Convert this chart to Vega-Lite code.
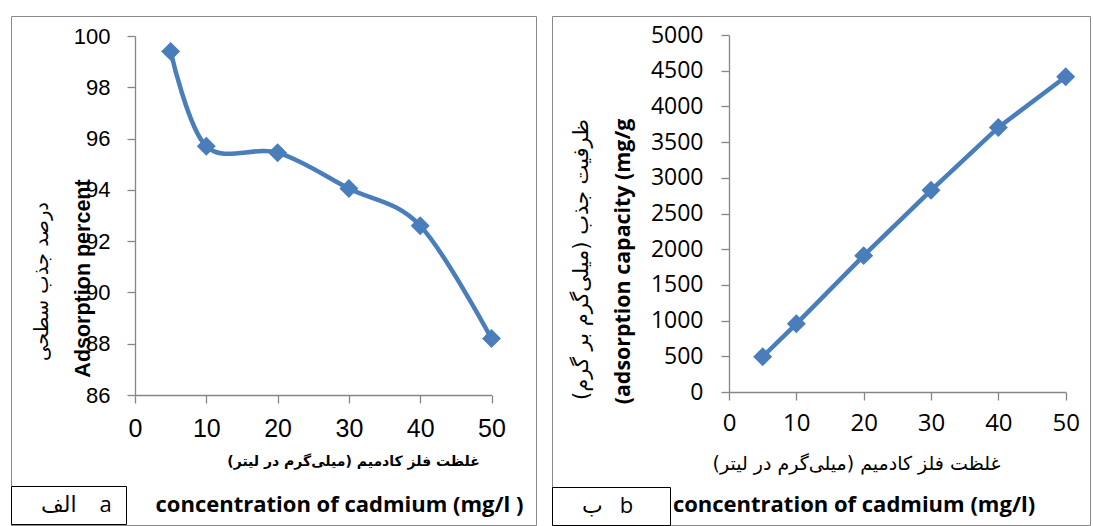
{
  "$schema": "https://vega.github.io/schema/vega-lite/v6.json",
  "background": "white",
  "padding": {"left": 10, "top": 15, "right": 0, "bottom": 0},
  "spacing": 14,
  "config": {
    "view": {"stroke": "#898989", "strokeWidth": 1, "fill": "white"},
    "axis": {"grid": false, "domainColor": "#868686", "tickColor": "#868686", "domainWidth": 1.3, "tickWidth": 1.3, "tickSize": 8, "labelColor": "#000000", "titleColor": "#000000", "labelFlush": false, "labelOverlap": false}
  },
  "resolve": {"scale": {"shape": "independent"}, "legend": {"shape": "independent"}},
  "hconcat": [
    {
      "width": 525,
      "height": 509,
      "data": {"values": [
        {"c": 5, "p": 99.4},
        {"c": 10, "p": 95.7},
        {"c": 20, "p": 95.45},
        {"c": 30, "p": 94.05},
        {"c": 40, "p": 92.6},
        {"c": 50, "p": 88.2}
      ]},
      "resolve": {"axis": {"x": "independent", "y": "independent"}},
      "layer": [
        {
          "mark": {"type": "line", "interpolate": "cardinal", "color": "#4A7EBB", "strokeWidth": 4.5},
          "encoding": {
            "x": {"field": "c", "type": "quantitative",
              "scale": {"domain": [0, 50], "range": [124, 480.5], "nice": false, "zero": false},
              "axis": {"orient": "bottom", "offset": -130, "values": [0, 10, 20, 30, 40, 50],
                "labelFont": "Liberation Sans", "labelFontSize": 25, "labelPadding": 25, "labelBaseline": "middle",
                "title": "غلظت فلز کادمیم (میلی‌گرم در لیتر)", "titleFont": "DejaVu Sans", "titleFontSize": 14, "titleFontWeight": "bold",
                "titleX": 342, "titleY": 66, "titleAlign": "center", "titleBaseline": "middle", "titleAngle": 0}},
            "y": {"field": "p", "type": "quantitative",
              "scale": {"domain": [86, 100], "range": [379, 20], "nice": false, "zero": false},
              "axis": {"orient": "left", "offset": -124, "values": [86, 88, 90, 92, 94, 96, 98, 100],
                "labelFont": "Liberation Sans", "labelFontSize": 22, "labelPadding": 17,
                "title": "Adsorption percent", "titleFont": "Liberation Sans", "titleFontSize": 21.5, "titleFontWeight": "bold",
                "titleX": -52, "titleY": 262, "titleAngle": 270, "titleAlign": "center", "titleBaseline": "middle"}}
          }
        },
        {
          "mark": {"type": "point", "filled": true, "size": 260, "color": "#4A7EBB", "stroke": "#4A7EBB", "strokeWidth": 2, "opacity": 1},
          "encoding": {
            "x": {"field": "c", "type": "quantitative",
              "axis": {"orient": "bottom", "offset": -130, "domain": false, "ticks": false, "labels": false,
                "title": "concentration of cadmium (mg/l )", "titleFont": "Open Sans", "titleFontSize": 22, "titleFontWeight": "bold",
                "titleX": 328, "titleY": 109, "titleAlign": "center", "titleBaseline": "middle", "titleAngle": 0}},
            "y": {"field": "p", "type": "quantitative",
              "axis": {"orient": "left", "offset": -124, "domain": false, "ticks": false, "labels": false,
                "title": "درصد جذب سطحی", "titleFont": "DejaVu Sans", "titleFontSize": 19.5, "titleFontWeight": "normal",
                "titleX": -94, "titleY": 265, "titleAngle": 270, "titleAlign": "center", "titleBaseline": "middle"}},
            "shape": {"datum": "a", "type": "nominal",
              "scale": {"domain": ["a"], "range": ["diamond"]},
              "legend": {"orient": "none", "legendX": 0, "legendY": 470, "title": null,
                "strokeColor": "#000000", "fillColor": "white", "padding": 8,
                "symbolSize": 0, "symbolOpacity": 0, "symbolStrokeWidth": 0, "labelOffset": 0,
                "labelFont": "Open Sans, DejaVu Sans", "labelFontSize": 22, "labelColor": "#000000",
                "labelExpr": "'الف\u00a0\u00a0\u00a0\u00a0' + datum.label + '\u00a0\u200e'"}}
          }
        }
      ]
    },
    {
      "width": 538,
      "height": 509,
      "data": {"values": [
        {"c": 5, "q": 495},
        {"c": 10, "q": 955},
        {"c": 20, "q": 1910},
        {"c": 30, "q": 2825},
        {"c": 40, "q": 3705},
        {"c": 50, "q": 4415}
      ]},
      "resolve": {"axis": {"x": "independent", "y": "independent"}},
      "layer": [
        {
          "mark": {"type": "line", "color": "#4A7EBB", "strokeWidth": 4.5},
          "encoding": {
            "x": {"field": "c", "type": "quantitative",
              "scale": {"domain": [0, 50], "range": [177, 513.7], "nice": false, "zero": false},
              "axis": {"orient": "bottom", "offset": -133, "values": [0, 10, 20, 30, 40, 50],
                "labelFont": "Open Sans", "labelFontSize": 24, "labelPadding": 23, "labelBaseline": "middle",
                "title": "غلظت فلز کادمیم (میلی‌گرم در لیتر)", "titleFont": "DejaVu Sans", "titleFontSize": 19, "titleFontWeight": "normal",
                "titleX": 304, "titleY": 71, "titleAlign": "center", "titleBaseline": "middle", "titleAngle": 0}},
            "y": {"field": "q", "type": "quantitative",
              "scale": {"domain": [0, 5000], "range": [376, 19], "nice": false, "zero": false},
              "axis": {"orient": "left", "offset": -177, "values": [0, 500, 1000, 1500, 2000, 2500, 3000, 3500, 4000, 4500, 5000],
                "format": "d",
                "labelFont": "Open Sans", "labelFontSize": 23, "labelPadding": 18,
                "title": "(adsorption capacity (mg/g", "titleFont": "Open Sans", "titleFontSize": 21.4, "titleFontWeight": "bold",
                "titleX": -106, "titleY": 245, "titleAngle": 270, "titleAlign": "center", "titleBaseline": "middle"}}
          }
        },
        {
          "mark": {"type": "point", "filled": true, "size": 260, "color": "#4A7EBB", "stroke": "#4A7EBB", "strokeWidth": 2, "opacity": 1},
          "encoding": {
            "x": {"field": "c", "type": "quantitative",
              "axis": {"orient": "bottom", "offset": -133, "domain": false, "ticks": false, "labels": false,
                "title": "concentration of cadmium (mg/l)", "titleFont": "Open Sans", "titleFontSize": 22, "titleFontWeight": "bold",
                "titleX": 301.5, "titleY": 112, "titleAlign": "center", "titleBaseline": "middle", "titleAngle": 0}},
            "y": {"field": "q", "type": "quantitative",
              "axis": {"orient": "left", "offset": -177, "domain": false, "ticks": false, "labels": false,
                "title": "ظرفیت جذب (میلی‌گرم بر گرم)", "titleFont": "DejaVu Sans", "titleFontSize": 21, "titleFontWeight": "normal",
                "titleX": -148, "titleY": 243, "titleAngle": 270, "titleAlign": "center", "titleBaseline": "middle"}},
            "shape": {"datum": "b", "type": "nominal",
              "scale": {"domain": ["b"], "range": ["diamond"]},
              "legend": {"orient": "none", "legendX": 0, "legendY": 471, "title": null,
                "strokeColor": "#000000", "fillColor": "white", "padding": 8,
                "symbolSize": 0, "symbolOpacity": 0, "symbolStrokeWidth": 0, "labelOffset": 0,
                "labelFont": "Open Sans, DejaVu Sans", "labelFontSize": 22, "labelColor": "#000000",
                "labelExpr": "'ب\u00a0\u00a0\u00a0' + datum.label + '\u00a0\u00a0\u00a0\u00a0\u00a0\u200e'"}}
          }
        }
      ]
    }
  ]
}
